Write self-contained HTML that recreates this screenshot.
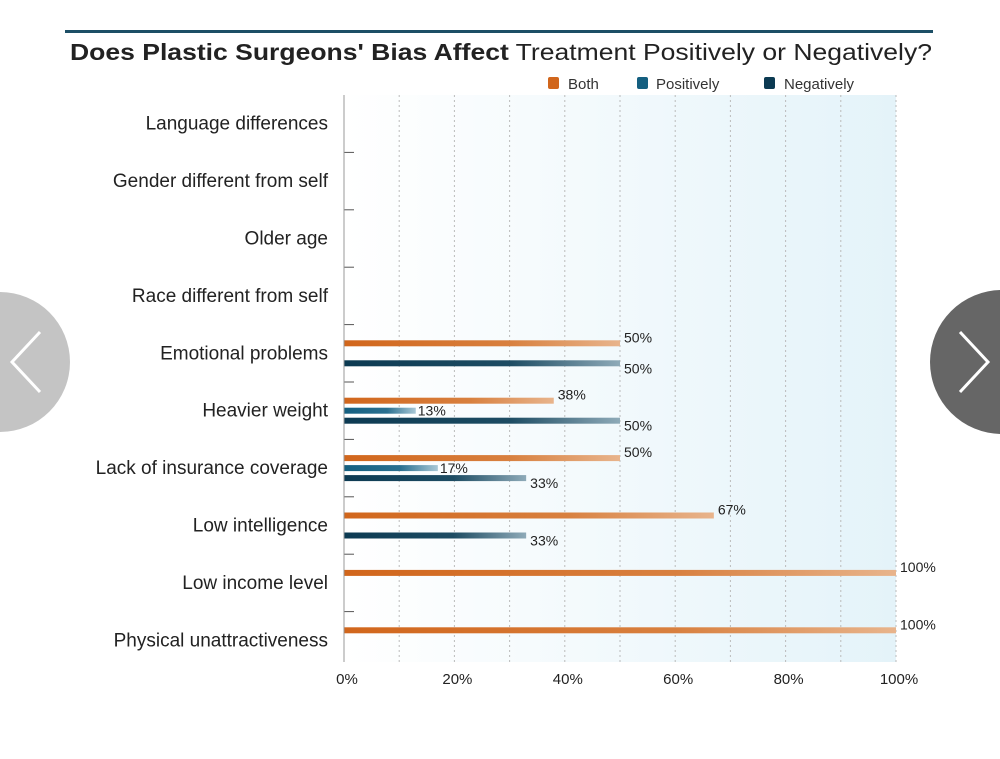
<!DOCTYPE html>
<html><head><meta charset="utf-8"><style>
body{margin:0;background:#fff;width:1000px;height:759px;overflow:hidden;font-family:"Liberation Sans",sans-serif}
svg{position:absolute;left:0;top:0}
</style></head><body>
<svg width="1000" height="759">
<defs>
<linearGradient id="bg" x1="0" x2="1"><stop offset="0" stop-color="#ffffff"/><stop offset="1" stop-color="#e4f3f9"/></linearGradient>
<linearGradient id="gb" x1="0" x2="1"><stop offset="0" stop-color="#d1661c"/><stop offset="0.6" stop-color="#d8803f"/><stop offset="1" stop-color="#e8b48c"/></linearGradient>
<linearGradient id="gp" x1="0" x2="1"><stop offset="0" stop-color="#145f80"/><stop offset="0.6" stop-color="#2a7090"/><stop offset="1" stop-color="#a9c8d6"/></linearGradient>
<linearGradient id="gn" x1="0" x2="1"><stop offset="0" stop-color="#0c3a52"/><stop offset="0.6" stop-color="#1d4c63"/><stop offset="1" stop-color="#8eaab8"/></linearGradient>
</defs>
<rect x="65" y="30" width="868" height="3" fill="#1d4f66"/>
<text x="70" y="60" font-size="23" fill="#222" textLength="862" lengthAdjust="spacingAndGlyphs"><tspan font-weight="bold">Does Plastic Surgeons' Bias Affect</tspan> Treatment Positively or Negatively?</text>
<g font-size="15" fill="#333">
<rect x="548" y="77" width="11" height="12" rx="2" fill="#d1661c"/>
<text x="568" y="89">Both</text>
<rect x="637" y="77" width="11" height="12" rx="2" fill="#145f80"/>
<text x="656" y="89">Positively</text>
<rect x="764" y="77" width="11" height="12" rx="2" fill="#0c3a52"/>
<text x="784" y="89">Negatively</text>
</g>
<rect x="344" y="95" width="552" height="567" fill="url(#bg)"/>
<g id="grid"></g>
<g id="bars"></g>
<g id="labels"></g>
<line x1="344" y1="95" x2="344" y2="662" stroke="#999" stroke-width="1"/>
<g>
<circle cx="0" cy="362" r="70" fill="#c4c4c4"/>
<polyline points="40,332 12,362 40,392" fill="none" stroke="#fff" stroke-width="3"/>
</g>
<g>
<circle cx="1002" cy="362" r="72" fill="#666"/>
<polyline points="960,332 988,362 960,392" fill="none" stroke="#fff" stroke-width="3"/>
</g>
</svg>
<script>
const categories=["Language differences","Gender different from self","Older age","Race different from self","Emotional problems","Heavier weight","Lack of insurance coverage","Low intelligence","Low income level","Physical unattractiveness"];
const both=[null,null,null,null,50,38,50,67,100,100];
const positively=[null,null,null,null,null,13,17,null,null,null];
const negatively=[null,null,null,null,50,50,33,33,null,null];
const xTicks=[0,20,40,60,80,100];
(function(){
const NS="http://www.w3.org/2000/svg";
const x0=344,x1=896,plotTop=95,rowH=57.4;
const xs=v=>x0+(x1-x0)*v/100;
const yc=i=>plotTop+rowH*(i+0.5);
function mk(t,a,p){const e=document.createElementNS(NS,t);for(const k in a)e.setAttribute(k,a[k]);p.appendChild(e);return e;}
const grid=document.getElementById('grid'),bars=document.getElementById('bars'),labels=document.getElementById('labels');
for(let v=10;v<=100;v+=10){const l=mk('line',{x1:xs(v),x2:xs(v),y1:plotTop,y2:662,stroke:'#bbb','stroke-dasharray':'2,3'},grid);

}
xTicks.forEach(v=>{const t=mk('text',{x:xs(v)+3,y:684,'font-size':15,fill:'#222','text-anchor':'middle'},labels);t.textContent=v+'%';

});
categories.forEach((c,i)=>{const t=mk('text',{x:328,y:yc(i)+6,'font-size':19,fill:'#222','text-anchor':'end'},labels);t.textContent=c;


if(i>0){const m=mk('line',{x1:344,x2:354,y1:plotTop+rowH*i,y2:plotTop+rowH*i,stroke:'#555'},labels);

}});
const series=[[both,'url(#gb)',-10,'bar-both'],[positively,'url(#gp)',0,'bar-positively'],[negatively,'url(#gn)',10,'bar-negatively']];
series.forEach(([arr,fill,off,name])=>{arr.forEach((v,i)=>{if(v==null)return;const y=yc(i)+off;
const r=mk('rect',{x:x0,y:y-3,width:xs(v)-x0,height:6,fill:fill},bars);


let ty=y+10,tx=xs(v)+4;
if(name==='bar-both'){ty=y-1;}
if(name==='bar-positively'){ty=y+5;tx=xs(v)+2;}
const t=mk('text',{x:tx,y:ty,'font-size':14,fill:'#222'},labels);
t.textContent=v+'%';

});});
})();
</script>
</body></html>
